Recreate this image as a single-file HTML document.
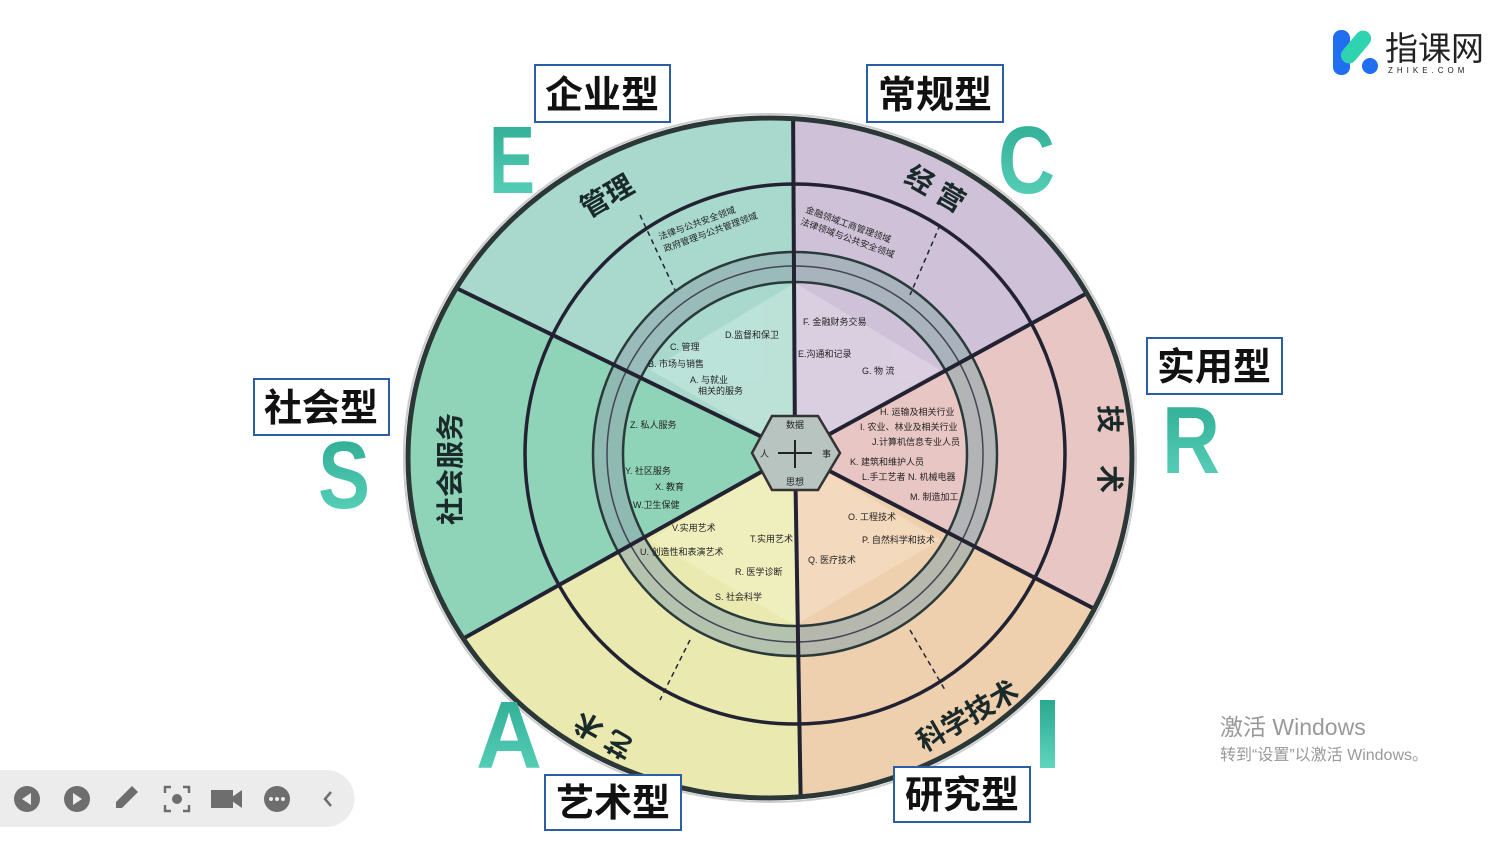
<!DOCTYPE html>
<html><head><meta charset="utf-8"><style>
html,body{margin:0;padding:0;background:#fff;width:1509px;height:850px;overflow:hidden}
svg{display:block}
.box{fill:#fff;stroke:#2a5fa8;stroke-width:2}
.bt{font-family:"Liberation Sans","Noto Sans CJK SC",sans-serif;font-weight:bold;font-size:38px;fill:#111}
.big{font-family:"Liberation Sans",sans-serif;font-weight:bold;font-size:96px;fill:url(#tg)}
.refl{font-family:"Liberation Sans",sans-serif;font-weight:bold;font-size:96px;fill:url(#rg)}
.t{font-family:"Liberation Sans","Noto Sans CJK SC",sans-serif;font-size:9px;fill:#222}
.h{font-family:"Liberation Sans","Noto Sans CJK SC",sans-serif;font-size:28px;font-weight:bold;fill:#1a2a2a}
</style></head><body>
<svg width="1509" height="850" viewBox="0 0 1509 850" xmlns="http://www.w3.org/2000/svg">
<defs>
<linearGradient id="tg" x1="0" y1="0" x2="0" y2="1"><stop offset="0" stop-color="#2aa88f"/><stop offset="1" stop-color="#5fd6bf"/></linearGradient>
<linearGradient id="rg" x1="0" y1="0" x2="0" y2="1"><stop offset="0" stop-color="#8ee0cf" stop-opacity="0.6"/><stop offset="0.5" stop-color="#fff" stop-opacity="0"/></linearGradient>
<clipPath id="outer"><ellipse cx="770" cy="458" rx="362" ry="340"/></clipPath>
</defs>
<g clip-path="url(#outer)">
<polygon points="795,453 789,-546 -195,-30" fill="#a8d9cc"/>
<polygon points="795,453 -195,-30 -180,1005" fill="#8fd4b8"/>
<polygon points="795,453 -180,1005 810,1494" fill="#eaeab0"/>
<polygon points="795,453 810,1494 1680,909" fill="#efd0ae"/>
<polygon points="795,453 1680,909 1656,-21" fill="#e8c6c3"/>
<polygon points="795,453 1656,-21 789,-546" fill="#cfc2d8"/>
<!-- arrow band (annulus) -->
<path d="M593,454 a202,202 0 1,0 404,0 a202,202 0 1,0 -404,0 Z M623,454 a172,172 0 1,1 344,0 a172,172 0 1,1 -344,0 Z" fill-rule="evenodd" fill="#8fa9ad" opacity="0.6"/>
<circle cx="795" cy="454" r="202" fill="none" stroke="#2a3a3a" stroke-width="2.5"/>
<circle cx="795" cy="454" r="172" fill="none" stroke="#2a3a3a" stroke-width="2.5"/>
<circle cx="795" cy="454" r="188" fill="none" stroke="#445" stroke-width="1.5"/>
<!-- inner lighter area -->
<g opacity="0.45">
<polygon points="795,453 795,283 650,370" fill="#d5efe8"/>
<polygon points="795,453 795,283 940,370" fill="#e8e0ee"/>
<polygon points="795,453 650,540 795,625" fill="#f7f7d0"/>
<polygon points="795,453 940,540 795,625" fill="#f8e6d0"/>
</g>
<circle cx="795" cy="454" r="270" fill="none" stroke="#223" stroke-width="3.5"/>
<g stroke="#223" stroke-width="4">
<line x1="795" y1="453" x2="793" y2="100"/>
<line x1="795" y1="453" x2="450" y2="285"/>
<line x1="795" y1="453" x2="450" y2="646"/>
<line x1="795" y1="453" x2="801" y2="820"/>
<line x1="795" y1="453" x2="1110" y2="617"/>
<line x1="795" y1="453" x2="1100" y2="286"/>
</g>
<g stroke="#223" stroke-width="1.5" stroke-dasharray="5,4">
<line x1="640" y1="215" x2="675" y2="290"/>
<line x1="940" y1="225" x2="910" y2="295"/>
<line x1="690" y1="640" x2="660" y2="700"/>
<line x1="910" y1="630" x2="945" y2="690"/>
</g>
</g>
<ellipse cx="770" cy="458" rx="362" ry="340" fill="none" stroke="#2c3838" stroke-width="5"/>
<ellipse cx="770" cy="458" rx="366" ry="344" fill="none" stroke="#ccc" stroke-width="2"/>
<!-- center hexagon -->
<polygon points="752,453 772,416 818,416 840,453 818,490 772,490" fill="#b8c4c0" stroke="#333" stroke-width="2.5"/>
<text x="795" y="428" text-anchor="middle" class="t">数据</text>
<text x="795" y="485" text-anchor="middle" class="t">思想</text>
<text x="760" y="457" class="t">人</text><text x="822" y="457" class="t" fill="#2a5fa8">事</text>
<g stroke="#222" stroke-width="2"><line x1="795" y1="440" x2="795" y2="468"/><line x1="778" y1="453" x2="812" y2="453"/></g>
<!-- sector titles -->
<text x="580" y="210" class="h" transform="rotate(-30 600 200)">管理</text>
<text x="895" y="190" class="h" transform="rotate(30 915 200)">经 营</text>
<text x="1085" y="410" class="h" transform="rotate(90 1095 415)">技</text>
<text x="1085" y="470" class="h" transform="rotate(90 1095 475)">术</text>
<text x="430" y="525" class="h" transform="rotate(-90 445 510)">社会服务</text>
<text x="590" y="730" class="h" transform="rotate(210 615 730)">艺 术</text>
<text x="910" y="740" class="h" transform="rotate(-30 940 720)">科学技术</text>
<!-- small labels -->
<text x="660" y="240" class="t" transform="rotate(-20 660 240)">法律与公共安全领域</text>
<text x="665" y="252" class="t" transform="rotate(-20 665 252)">政府管理与公共管理领域</text>
<text x="805" y="212" class="t" transform="rotate(20 805 212)">金融领域工商管理领域</text>
<text x="800" y="224" class="t" transform="rotate(20 800 224)">法律领域与公共安全领域</text>
<text x="725" y="338" class="t">D.监督和保卫</text>
<text x="670" y="350" class="t">C. 管理</text>
<text x="648" y="367" class="t">B. 市场与销售</text>
<text x="690" y="383" class="t">A. 与就业</text>
<text x="698" y="394" class="t">相关的服务</text>
<text x="630" y="428" class="t">Z. 私人服务</text>
<text x="625" y="474" class="t">Y. 社区服务</text>
<text x="655" y="490" class="t">X. 教育</text>
<text x="633" y="508" class="t">W.卫生保健</text>
<text x="672" y="531" class="t">V.实用艺术</text>
<text x="640" y="555" class="t">U. 创造性和表演艺术</text>
<text x="750" y="542" class="t">T.实用艺术</text>
<text x="735" y="575" class="t">R. 医学诊断</text>
<text x="715" y="600" class="t">S. 社会科学</text>
<text x="803" y="325" class="t">F. 金融财务交易</text>
<text x="798" y="357" class="t">E.沟通和记录</text>
<text x="862" y="374" class="t">G. 物 流</text>
<text x="880" y="415" class="t">H. 运输及相关行业</text>
<text x="860" y="430" class="t">I. 农业、林业及相关行业</text>
<text x="872" y="445" class="t">J.计算机信息专业人员</text>
<text x="850" y="465" class="t">K. 建筑和维护人员</text>
<text x="862" y="480" class="t">L.手工艺者 N. 机械电器</text>
<text x="910" y="500" class="t">M. 制造加工</text>
<text x="848" y="520" class="t">O. 工程技术</text>
<text x="862" y="543" class="t">P. 自然科学和技术</text>
<text x="808" y="563" class="t">Q. 医疗技术</text>
<!-- type boxes -->
<rect x="535" y="65" width="135" height="57" class="box"/><text x="602" y="108" text-anchor="middle" class="bt">企业型</text>
<rect x="867" y="65" width="136" height="57" class="box"/><text x="935" y="108" text-anchor="middle" class="bt">常规型</text>
<rect x="1147" y="338" width="135" height="56" class="box"/><text x="1214" y="380" text-anchor="middle" class="bt">实用型</text>
<rect x="254" y="379" width="135" height="56" class="box"/><text x="321" y="421" text-anchor="middle" class="bt">社会型</text>
<rect x="545" y="775" width="136" height="55" class="box"/><text x="613" y="816" text-anchor="middle" class="bt">艺术型</text>
<rect x="894" y="767" width="136" height="55" class="box"/><text x="962" y="808" text-anchor="middle" class="bt">研究型</text>
<!-- big letters -->
<text x="489" y="193" class="big" textLength="46" lengthAdjust="spacingAndGlyphs">E</text>
<text x="998" y="193" class="big" textLength="57" lengthAdjust="spacingAndGlyphs">C</text>
<text x="1162" y="473" class="big" textLength="58" lengthAdjust="spacingAndGlyphs">R</text>
<text x="318" y="508" class="big" textLength="52" lengthAdjust="spacingAndGlyphs">S</text>
<text x="476" y="768" class="big" textLength="66" lengthAdjust="spacingAndGlyphs">A</text>
<rect x="1040" y="700" width="15" height="68" fill="url(#tg)"/>
<!-- logo -->
<rect x="1333" y="30" width="17" height="45" rx="8" fill="#1f6ff0"/>
<rect x="1348" y="28" width="16" height="38" rx="8" fill="#2fd3b0" transform="rotate(40 1356 47)"/>
<circle cx="1370" cy="66" r="8" fill="#1f6ff0"/>
<text x="1385" y="60" font-family="'Noto Sans CJK SC',sans-serif" font-size="33" fill="#222">指课网</text>
<text x="1388" y="73" font-family="'Liberation Sans',sans-serif" font-size="8" letter-spacing="4" fill="#222">ZHIKE.COM</text>
<!-- windows watermark -->
<text x="1220" y="735" font-family="'Liberation Sans','Noto Sans CJK SC',sans-serif" font-size="23" fill="#999">激活 Windows</text>
<text x="1220" y="760" font-family="'Liberation Sans','Noto Sans CJK SC',sans-serif" font-size="16" fill="#999">转到“设置”以激活 Windows。</text>
<!-- toolbar -->
<path d="M0,770 H326 A28,28 0 0 1 326,827 H0 Z" fill="#ececec"/>
<g fill="#6e6e6e">
<circle cx="27" cy="799" r="13"/><polygon points="22,799 31,793 31,805" fill="#ececec"/>
<circle cx="77" cy="799" r="13"/><polygon points="73,793 82,799 73,805" fill="#ececec"/>
<polygon points="116,808 116,802 132,786 138,792 122,808"/>
<circle cx="177" cy="799" r="5"/>
<rect x="211" y="790" width="22" height="18"/><polygon points="232,797 242,790 242,808 232,801"/>
<circle cx="277" cy="799" r="13"/>
</g>
<g fill="#ececec"><circle cx="271" cy="799" r="2"/><circle cx="277" cy="799" r="2"/><circle cx="283" cy="799" r="2"/></g>
<g fill="none" stroke="#6e6e6e" stroke-width="2.5">
<path d="M165,793 v-6 h6 M183,787 h6 v6 M189,805 v6 h-6 M171,811 h-6 v-6"/>
<path d="M331,792 l-6,7 l6,7"/>
</g>
</svg>
</body></html>
